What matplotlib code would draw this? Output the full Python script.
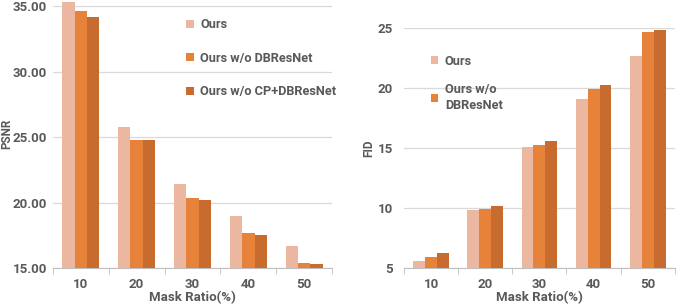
import matplotlib.pyplot as plt
import numpy as np

plt.rcParams['font.family'] = ['Roboto', 'DejaVu Sans']
plt.rcParams['font.weight'] = 'bold'
plt.rcParams['axes.labelweight'] = 'bold'

# data
ratios = ['10', '20', '30', '40', '50']
psnr_ours = [35.33, 25.79, 21.40, 18.98, 16.69]
psnr_no_db = [34.62, 24.80, 20.33, 17.70, 15.38]
psnr_no_cp_db = [34.18, 24.80, 20.23, 17.55, 15.30]
fid_ours = [5.53, 9.78, 15.10, 19.08, 22.64]
fid_no_db = [5.90, 9.92, 15.20, 19.92, 24.68]
fid_no_cp_db = [6.22, 10.14, 15.60, 20.20, 24.80]

labels = ['Ours', 'Ours w/o DBResNet', 'Ours w/o CP+DBResNet']
colors = ['#EBB7A1', '#E6823A', '#C86B2E']
txt = '#595959'
grid = '#D9D9D9'


def bars(ax, series, width=0.22):
    x = np.arange(len(ratios))
    hs = []
    for i, vals in enumerate(series):
        hs.append(ax.bar(x + (i - 1) * width, vals, width, color=colors[i], zorder=3))
    ax.set_xlim(-0.5, len(ratios) - 0.5)
    ax.set_xticks(x)
    ax.set_xticklabels(ratios, fontweight='bold')
    ax.set_xticks(np.arange(-0.5, len(ratios)), minor=True)
    ax.tick_params(axis='x', which='major', length=0, labelsize=9.5, colors=txt, pad=7)
    ax.tick_params(axis='x', which='minor', length=4, color='#BFBFBF')
    ax.tick_params(axis='y', length=0, labelsize=9.5, colors=txt)
    for s in ['top', 'right', 'left']:
        ax.spines[s].set_visible(False)
    ax.spines['bottom'].set_color('#BFBFBF')
    ax.yaxis.grid(True, color=grid, linewidth=0.9, zorder=0)
    ax.set_xlabel('Mask Ratio(%)', fontsize=9.5, color=txt, labelpad=0, fontweight='bold')
    return hs


fig = plt.figure(figsize=(6.85, 3.05), dpi=100)

ax1 = fig.add_axes([0.077, 0.121, 0.408, 0.879])
h1 = bars(ax1, [psnr_ours, psnr_no_db, psnr_no_cp_db])
ax1.set_ylim(15, 35.46)
ax1.set_yticks([15, 20, 25, 30, 35])
ax1.set_yticklabels(['15.00', '20.00', '25.00', '30.00', '35.00'], fontweight='bold')
ax1.tick_params(axis='y', pad=4)
ax1.set_ylabel('PSNR', fontsize=8.5, color=txt, labelpad=0, fontweight='bold')
leg1 = ax1.legend(h1, labels, loc='upper left', bbox_to_anchor=(0.455, 0.955), frameon=False,
                  labelcolor=txt, handlelength=0.6, handleheight=0.6,
                  handletextpad=0.5, labelspacing=1.6, borderpad=0,
                  prop={'weight': 'bold', 'size': 9.2})

ax2 = fig.add_axes([0.590, 0.122, 0.395, 0.787])
h2 = bars(ax2, [fid_ours, fid_no_db, fid_no_cp_db])
ax2.set_ylim(5, 25)
ax2.set_yticks([5, 10, 15, 20, 25])
ax2.set_yticklabels(['5', '10', '15', '20', '25'], fontweight='bold')
ax2.tick_params(axis='y', pad=8)
ax2.set_ylabel('FID', fontsize=8.5, color=txt, labelpad=2, fontweight='bold')
leg2 = ax2.legend(h2[:2], ['Ours', 'Ours w/o\nDBResNet'], loc='upper left', bbox_to_anchor=(0.075, 0.915),
                  frameon=False, labelcolor=txt, handlelength=0.6, handleheight=0.6,
                  handletextpad=0.5, labelspacing=1.2, borderpad=0,
                  prop={'weight': 'bold', 'size': 9.2})
for t in leg2.get_texts():
    t.set_linespacing(1.35)

fig.savefig('out.png', dpi=100)
